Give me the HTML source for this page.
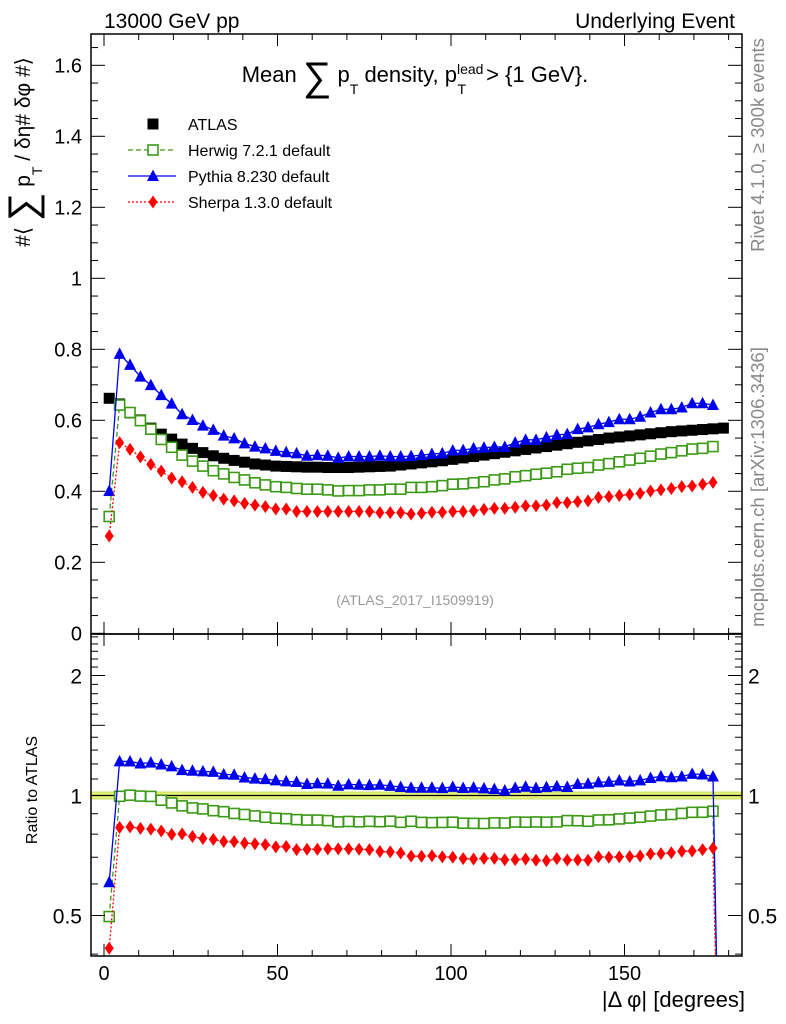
<!DOCTYPE html>
<html><head><meta charset="utf-8"><style>
html,body{margin:0;padding:0;background:#fff;width:786px;height:1024px;overflow:hidden;position:relative;}
svg{position:absolute;left:0;top:0;display:block;font-family:"Liberation Sans",Arial,sans-serif;overflow:hidden;}
</style></head><body>
<svg id="chart" width="786" height="1024" viewBox="0 0 786 1024" xmlns="http://www.w3.org/2000/svg">
<text x="104" y="28" font-size="21">13000 GeV pp</text>
<text x="735" y="28" font-size="21" text-anchor="end">Underlying Event</text>
<text x="415" y="82" font-size="22" text-anchor="middle">Mean <tspan font-size="40" dy="8">∑</tspan><tspan dy="-8"> p</tspan><tspan font-size="14" dy="12">T</tspan><tspan dy="-12"> density, p</tspan><tspan font-size="14" dy="-8">lead</tspan><tspan font-size="14" dx="-26" dy="20">T</tspan><tspan dx="14" dy="-12"> &gt; {1 GeV}.</tspan></text>
<text transform="translate(30,152) rotate(-90)" font-size="21" text-anchor="middle">#⟨ <tspan font-size="40" dy="6">∑</tspan><tspan dy="-6"> p</tspan><tspan font-size="14" dy="12">T</tspan><tspan dy="-12"> / δη# δφ #⟩</tspan></text>
<text transform="translate(37,790) rotate(-90)" font-size="16" text-anchor="middle">Ratio to ATLAS</text>
<text transform="translate(764,145) rotate(-90)" font-size="18.5" fill="#888" text-anchor="middle">Rivet 4.1.0, ≥ 300k events</text>
<text transform="translate(764,487) rotate(-90)" font-size="18.5" fill="#888" text-anchor="middle">mcplots.cern.ch [arXiv:1306.3436]</text>
<text x="415" y="605" font-size="14" fill="#999" text-anchor="middle">(ATLAS_2017_I1509919)</text>
<text x="745" y="1007" font-size="22" text-anchor="end">|Δ φ| [degrees]</text>
<g id="legend"></g>
<g id="main"></g>
<g id="ratio"></g>
<g id="axes"></g>
</svg>
<script>
const xCenters = [];
for (let i = 0; i < 60; i++) xCenters.push(1.5 + 3 * i);
const atlas = [0.662,0.646,0.621,0.601,0.578,0.561,0.547,0.533,0.521,0.509,0.500,0.493,0.487,0.482,0.477,0.474,0.471,0.470,0.469,0.468,0.468,0.467,0.467,0.467,0.468,0.469,0.470,0.471,0.474,0.477,0.480,0.483,0.486,0.490,0.494,0.498,0.502,0.506,0.510,0.514,0.518,0.522,0.526,0.530,0.534,0.538,0.542,0.546,0.550,0.553,0.556,0.559,0.562,0.565,0.568,0.570,0.572,0.574,0.576,0.578];
const herwig = [0.329,0.643,0.622,0.599,0.575,0.546,0.524,0.502,0.485,0.471,0.458,0.449,0.439,0.432,0.424,0.418,0.413,0.411,0.408,0.406,0.406,0.404,0.401,0.402,0.402,0.404,0.404,0.406,0.406,0.411,0.411,0.413,0.416,0.420,0.421,0.424,0.427,0.432,0.435,0.441,0.444,0.448,0.451,0.455,0.462,0.465,0.467,0.474,0.478,0.483,0.488,0.493,0.499,0.505,0.509,0.514,0.519,0.521,0.526];
const pythia = [0.401,0.787,0.756,0.723,0.699,0.671,0.647,0.617,0.601,0.585,0.573,0.557,0.549,0.535,0.526,0.521,0.514,0.510,0.507,0.500,0.502,0.500,0.494,0.498,0.498,0.498,0.500,0.498,0.498,0.499,0.502,0.505,0.507,0.515,0.516,0.521,0.523,0.525,0.525,0.537,0.545,0.545,0.552,0.559,0.561,0.575,0.580,0.589,0.595,0.603,0.603,0.610,0.622,0.631,0.631,0.636,0.648,0.648,0.643];
const sherpa = [0.274,0.537,0.518,0.497,0.476,0.457,0.437,0.427,0.411,0.397,0.388,0.378,0.373,0.366,0.361,0.357,0.350,0.350,0.343,0.343,0.343,0.343,0.343,0.343,0.343,0.343,0.340,0.340,0.340,0.336,0.338,0.341,0.341,0.343,0.343,0.345,0.349,0.352,0.352,0.355,0.359,0.359,0.361,0.368,0.368,0.371,0.373,0.383,0.385,0.388,0.391,0.394,0.401,0.404,0.408,0.413,0.415,0.420,0.425];
const xTicks = [0, 50, 100, 150];
const yTicks = [0, 0.2, 0.4, 0.6, 0.8, 1, 1.2, 1.4, 1.6];
const rTicks = [0.5, 1, 2];

const NS = "http://www.w3.org/2000/svg";
const L = 91, R = 742, T = 34, MB = 634, RB = 956;
const xs = d => 104 + 3.47 * d;
const ys = v => 633.3 - 355 * v;
const rs = r => 795.5 - 120 * Math.log2(r);
function mk(tag, attrs, parent) {
  const e = document.createElementNS(NS, tag);
  for (const k in attrs) e.setAttribute(k, attrs[k]);
  parent.appendChild(e);
  return e;
}
const svg = document.getElementById('chart');
const defs = mk('defs', {}, svg);
const c1 = mk('clipPath', {id: 'cm'}, defs); mk('rect', {x: L, y: T, width: R - L, height: MB - T}, c1);
const c2 = mk('clipPath', {id: 'cr'}, defs); mk('rect', {x: L, y: MB, width: R - L, height: RB - MB}, c2);
const gMain = document.getElementById('main'); gMain.setAttribute('clip-path', 'url(#cm)');
const gRatio = document.getElementById('ratio'); gRatio.setAttribute('clip-path', 'url(#cr)');
const gAx = document.getElementById('axes');

function marker(kind, x, y, color, parent) {
  let e;
  if (kind === 'sq') e = mk('rect', {x: x - 5.5, y: y - 5.5, width: 11, height: 11, fill: '#000'}, parent);
  else if (kind === 'osq') e = mk('rect', {x: x - 5, y: y - 5, width: 10, height: 10, fill: '#fff', stroke: color, 'stroke-width': 1.6}, parent);
  else if (kind === 'tri') e = mk('polygon', {points: `${x},${y - 6.5} ${x + 6},${y + 5} ${x - 6},${y + 5}`, fill: color}, parent);
  else e = mk('polygon', {points: `${x},${y - 6.5} ${x + 4.5},${y} ${x},${y + 6.5} ${x - 4.5},${y}`, fill: color}, parent);
  return e;
}
const series = [
  {name: 'herwig', vals: herwig, color: '#3c9a17', kind: 'osq', dash: '5,3', label: 'Herwig 7.2.1 default'},
  {name: 'pythia', vals: pythia, color: '#0000ee', kind: 'tri', dash: '', label: 'Pythia 8.230 default'},
  {name: 'sherpa', vals: sherpa, color: '#ff0000', kind: 'dia', dash: '2,2', label: 'Sherpa 1.3.0 default'}
];

const band = mk('rect', {x: L, y: rs(1.02), width: R - L, height: rs(0.98) - rs(1.02), fill: '#e8f27a', stroke: '#c4e060', 'stroke-width': 1}, gRatio);


const one = mk('line', {x1: L, x2: R, y1: rs(1), y2: rs(1), stroke: '#000', 'stroke-width': 1.3}, gRatio);



atlas.forEach((v, i) => {
  const m = marker('sq', xs(xCenters[i]), ys(v), '#000', gMain);
  
  
});

series.forEach(s => {
  const pts = s.vals.map((v, i) => `${xs(xCenters[i])},${ys(v)}`).join(' ');
  const pl = mk('polyline', {points: pts, fill: 'none', stroke: s.color, 'stroke-width': 1.3, 'stroke-dasharray': s.dash}, gMain);
  
  
  s.vals.forEach((v, i) => {
    const m = marker(s.kind, xs(xCenters[i]), ys(v), s.color, gMain);
    
    
  });
  const ratios = atlas.map((a, i) => (i < s.vals.length ? s.vals[i] / a : 0.05));
  const rp = ratios.map((r, i) => {
    let x = xs(xCenters[i]), y = rs(r);
    if (y > RB + 4) {
      const px = xs(xCenters[i - 1]), py = rs(ratios[i - 1]);
      x = px + (x - px) * (RB + 4 - py) / (y - py);
      y = RB + 4;
    }
    return `${x},${y}`;
  }).join(' ');
  const rl = mk('polyline', {points: rp, fill: 'none', stroke: s.color, 'stroke-width': 1.3, 'stroke-dasharray': s.dash}, gRatio);
  
  
  ratios.forEach((r, i) => {
    if (i >= s.vals.length) return;
    const m = marker(s.kind, xs(xCenters[i]), rs(r), s.color, gRatio);
    
    
  });
});

const f1 = mk('rect', {x: L, y: T, width: R - L, height: MB - T, fill: 'none', stroke: '#000', 'stroke-width': 1.5}, gAx);


const f2 = mk('rect', {x: L, y: MB, width: R - L, height: RB - MB, fill: 'none', stroke: '#000', 'stroke-width': 1.5}, gAx);



function tick(x1, y1, x2, y2) { mk('line', {x1, y1, x2, y2, stroke: '#000', 'stroke-width': 1}, gAx); }
for (let d = 0; d <= 180; d += 10) {
  const x = xs(d), big = d % 50 === 0, len = big ? 12 : 6;
  tick(x, T, x, T + len); tick(x, MB, x, MB - len);
  tick(x, MB, x, MB + len); tick(x, RB, x, RB - len);
}
xTicks.forEach(d => {
  const t = mk('text', {x: xs(d), y: 980, 'font-size': 20, 'text-anchor': 'middle'}, gAx);
  t.textContent = d;
  
  
});
for (let k = 0; k <= 33; k++) {
  const v = k * 0.05, y = ys(v); if (y < T) continue;
  const len = k % 4 === 0 ? 14 : 7;
  tick(L, y, L + len, y); tick(R, y, R - len, y);
}
yTicks.forEach(v => {
  const t = mk('text', {x: 82, y: ys(v) + 7, 'font-size': 20, 'text-anchor': 'end'}, gAx);
  t.textContent = v;
  
  
});
for (let k = 4; k <= 25; k++) {
  const r = k / 10, y = rs(r); if (y < MB || y > RB) continue;
  const len = (k === 5 || k === 10 || k === 15 || k === 20) ? 14 : 7;
  tick(L, y, L + len, y); tick(R, y, R - len, y);
}
rTicks.forEach(r => {
  const t = mk('text', {x: 82, y: rs(r) + 8, 'font-size': 21, 'text-anchor': 'end'}, gAx);
  t.textContent = r;
  
  
  const t2 = mk('text', {x: 748, y: rs(r) + 8, 'font-size': 21}, gAx);
  t2.textContent = r;
  
  
});

const lg = document.getElementById('legend');
const rows = [{label: 'ATLAS', kind: 'sq', color: '#000', dash: null}].concat(series);
rows.forEach((s, i) => {
  const y = 124 + 26 * i;
  if (s.dash !== null) {
    const ln = mk('line', {x1: 128, x2: 176, y1: y, y2: y, stroke: s.color, 'stroke-width': 1.3, 'stroke-dasharray': s.dash}, lg);
    
    
  }
  const m = marker(s.kind, 153, y, s.color, lg);
  
  
  const t = mk('text', {x: 188, y: y + 6, 'font-size': 16}, lg);
  t.textContent = s.label;
  
  
});
</script>
</body></html>
